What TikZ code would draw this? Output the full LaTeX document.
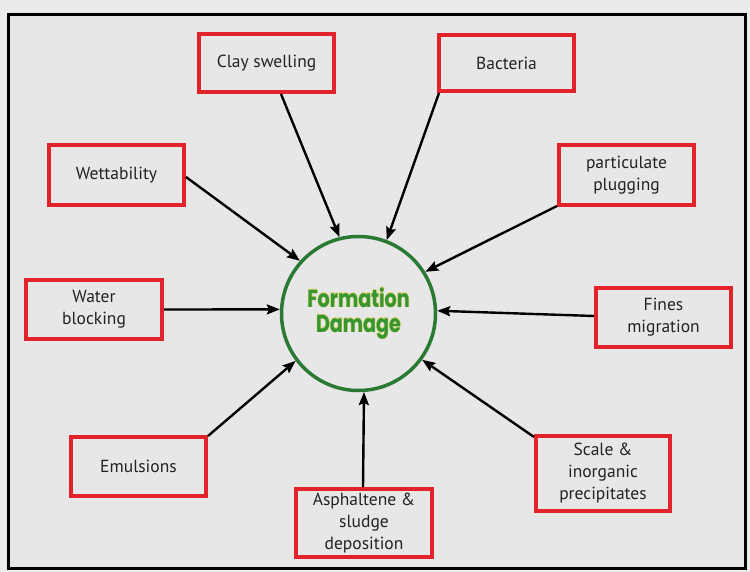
\documentclass[tikz,border=0pt]{standalone}
\usepackage{fontspec}
\setmainfont{PT Sans}
\newfontfamily\fdfont{Poppins}
\usetikzlibrary{arrows.meta}
\definecolor{bgout}{HTML}{EBEBEB}
\definecolor{bgin}{HTML}{E7E7E7}
\definecolor{boxred}{HTML}{E2232B}
\definecolor{txtgray}{HTML}{222222}
\definecolor{circgreen}{HTML}{2B7A33}
\definecolor{fdgreen}{HTML}{379634}
\definecolor{fdyellow}{HTML}{D6D05A}
\tikzset{
  cause/.style={draw=boxred, line width=4pt, fill=bgin, text=txtgray,
    font=\fontsize{17.5}{22}\selectfont, align=center, inner sep=0pt},
  feed/.style={line width=2.4pt, black, -{Stealth[length=13pt,width=10pt,inset=2pt]}},
  hub/.style={circle, draw=circgreen, line width=3.5pt, minimum size=154pt, inner sep=0pt}
}
\newcommand{\fdtext}[1]{\fontsize{24.5}{25}\fdfont\bfseries #1}
\begin{document}
\begin{tikzpicture}[x=1pt,y=-1pt]
\useasboundingbox (0,0) rectangle (750,572);
\fill[bgout] (0,0) rectangle (750,572);
\draw[line width=3pt, fill=bgin] (8.5,14.5) rectangle (745.5,568.5);

\node[hub] (fd) at (358.5,313.5) {};
\foreach \dx/\dy in {0.5/0,-0.5/0,0/0.5,0/-0.5}
  \node[text=fdyellow, align=center, font=\fdtext{}] at ([xshift=\dx pt,yshift=\dy pt]fd.center) {\scalebox{0.78}[1]{Formation}\\\scalebox{0.78}[1]{Damage}};
\node[text=fdgreen, align=center, font=\fdtext{}] (fdlabel) at (fd.center) {\scalebox{0.78}[1]{Formation}\\\scalebox{0.78}[1]{Damage}};

\node[cause, minimum width=135pt, minimum height=58pt] (clay) at (266.5,63) {Clay swelling};
\node[cause, minimum width=135pt, minimum height=56pt] (bact) at (506.5,63) {Bacteria};
\node[cause, minimum width=135pt, minimum height=60pt] (wett) at (116.5,175) {Wettability};
\node[cause, minimum width=135pt, minimum height=60pt] (part) at (626.5,175) {particulate\\plugging};
\node[cause, minimum width=136pt, minimum height=59pt] (water) at (94,309.5) {Water\\blocking};
\node[cause, minimum width=135pt, minimum height=58pt] (fines) at (663.5,317.5) {Fines\\migration};
\node[cause, minimum width=135pt, minimum height=59pt] (emul) at (138.5,466.5) {Emulsions};
\node[cause, minimum width=136pt, minimum height=68pt] (asph) at (364,523) {Asphaltene \&\\sludge\\deposition};
\node[cause, minimum width=134pt, minimum height=75pt] (scale) at (603,473.5) {Scale \&\\inorganic\\precipitates};

\draw[feed] ([xshift=14.5pt]clay.south) -- (fd.104);
\draw[feed] ([xshift=2pt]bact.south west) -- (fd.69);
\draw[feed] ([yshift=-2pt]wett.east) -- (fd.138);
\draw[feed] ([yshift=1pt]part.south west) -- (fd.32);
\draw[feed] (water.east) -- (fd.177.5);
\draw[feed] ([yshift=1.5pt]fines.west) -- (fd.2.6);
\draw[feed] ([yshift=-1pt]emul.north east) -- (fd.217.6);
\draw[feed] ([xshift=-1pt]asph.north) -- (fd.274);
\draw[feed] ([yshift=-3pt]scale.north west) -- (fd.324);
\end{tikzpicture}
\end{document}
